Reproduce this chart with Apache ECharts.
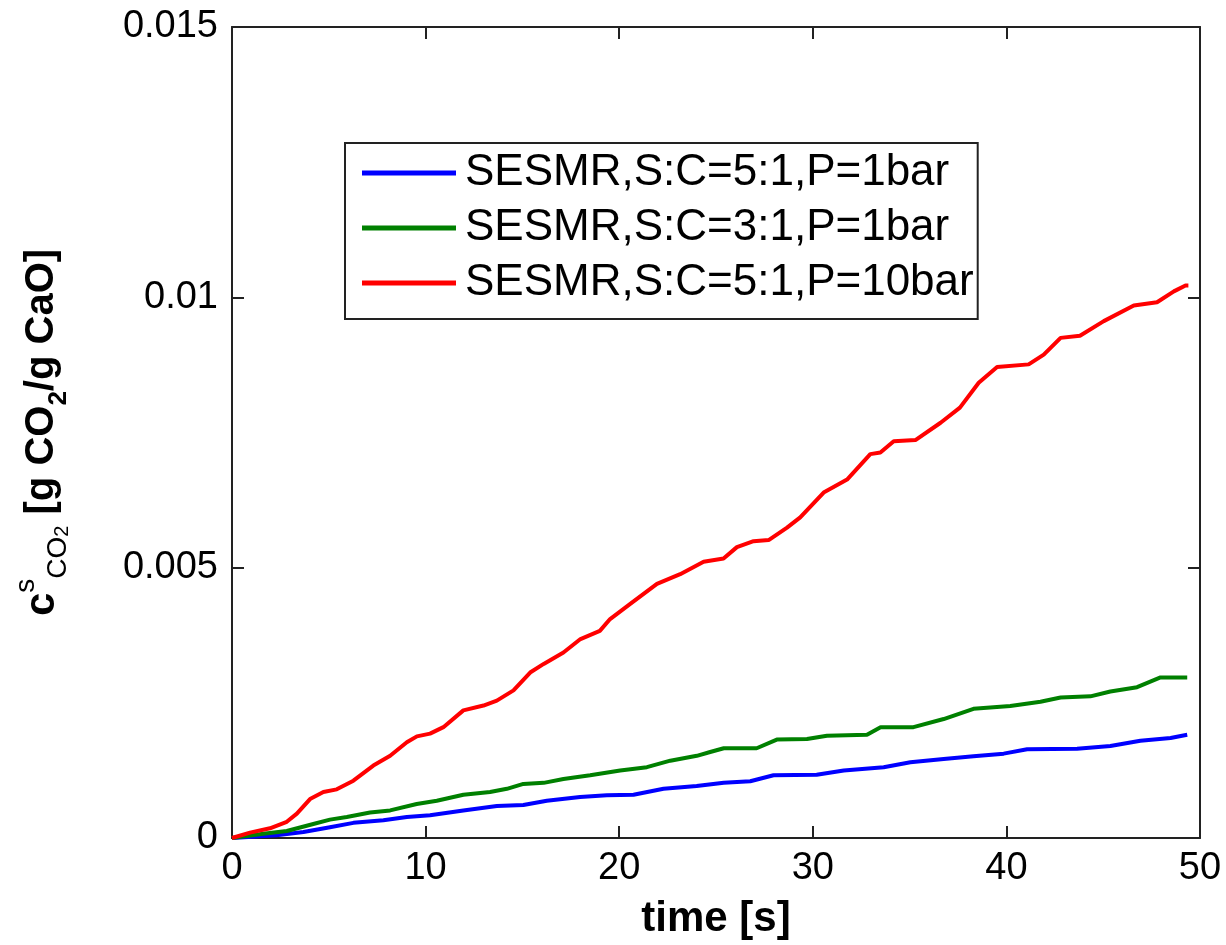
<!DOCTYPE html>
<html>
<head>
<meta charset="utf-8">
<script src="https://cdn.jsdelivr.net/npm/echarts@6/dist/echarts.min.js"></script>
<style>html,body{margin:0;padding:0;background:#fff;}#c{width:1226px;height:945px;}</style>
</head>
<body>
<div id="c"></div>
<script>
// ---- data ----
const seriesNames = ['SESMR,S:C=5:1,P=1bar', 'SESMR,S:C=3:1,P=1bar', 'SESMR,S:C=5:1,P=10bar'];
const blueT = [0,2.3,3.69,5.06,6.27,7.82,9.03,10.23,11.95,13.68,15.05,16.26,17.98,19.36,20.74,22.29,24.0,25.4,26.77,27.97,30.2,31.6,33.66,35.04,36.76,38.3,39.86,41.07,43.65,45.37,46.92,48.48,49.34];
const blueV = [0,0.00005,0.00011,0.0002,0.00028,0.00033,0.00039,0.00042,0.00051,0.00059,0.00061,0.00069,0.00076,0.00079,0.0008,0.00091,0.00096,0.00102,0.00105,0.00116,0.00117,0.00125,0.00131,0.0014,0.00146,0.00151,0.00156,0.00164,0.00165,0.0017,0.0018,0.00185,0.00191];
const greenT = [0,1.62,2.83,4.2,5.06,5.93,7.13,8.17,9.54,10.58,11.95,13.33,14.2,15.05,16.1,17.12,18.5,20.05,21.43,22.64,24.01,24.7,25.4,27.1,28.14,29.7,30.73,32.8,33.5,35.2,36.76,38.3,40.2,41.76,42.8,44.34,45.37,46.75,47.96,49.34];
const greenV = [0,0.00008,0.00013,0.00026,0.00034,0.00039,0.00047,0.00051,0.00063,0.00069,0.0008,0.00085,0.00091,0.001,0.00102,0.00109,0.00116,0.00125,0.00131,0.00143,0.00152,0.00159,0.00166,0.00166,0.00182,0.00183,0.00189,0.00191,0.00205,0.00205,0.0022,0.00239,0.00244,0.00252,0.0026,0.00262,0.00271,0.00279,0.00297,0.00297];
const redT = [0,0.93,1.96,2.83,3.35,4.03,4.72,5.41,6.27,7.3,8.17,9.03,9.55,10.23,10.92,11.95,12.99,13.68,14.54,15.4,16.1,17.12,18.0,19.0,19.53,20.57,21.95,23.15,24.36,25.39,26.08,26.94,27.72,28.67,29.35,30.56,31.77,32.97,33.49,34.18,35.3,36.6,37.6,38.57,39.52,41.15,41.93,42.8,43.8,45.03,46.58,47.78,48.65,49.25,49.4];
const redV = [0,0.0001,0.00018,0.0003,0.00045,0.00072,0.00085,0.0009,0.00106,0.00134,0.00152,0.00177,0.00188,0.00193,0.00205,0.00236,0.00245,0.00254,0.00273,0.00306,0.00322,0.00343,0.00368,0.00383,0.00405,0.00433,0.0047,0.00488,0.00511,0.00517,0.00538,0.00549,0.00551,0.00574,0.00593,0.00639,0.00663,0.0071,0.00713,0.00734,0.00736,0.00768,0.00796,0.00842,0.00871,0.00876,0.00894,0.00925,0.00929,0.00956,0.00985,0.00991,0.01011,0.01022,0.01022];
const xTicks = [0, 10, 20, 30, 40, 50];
const yTicks = [0, 0.005, 0.01, 0.015];
const yTickLabels = ['0', '0.005', '0.01', '0.015'];

const FONT = '"Liberation Sans", Arial, Helvetica, sans-serif';
const zip = (a, b) => a.map((t, i) => [t, b[i]]);
const colors = ['#0000ff', '#008000', '#ff0000'];
const dataSets = [zip(blueT, blueV), zip(greenT, greenV), zip(redT, redV)];

const axisLine = { show: true, onZero: false, lineStyle: { color: '#222', width: 2 } };
const tick = { show: true, inside: true, length: 12, lineStyle: { color: '#222', width: 2 } };

const chart = echarts.init(document.getElementById('c'), null, { renderer: 'canvas' });
chart.setOption({
  backgroundColor: '#fff',
  animation: false,
  grid: { left: 232, right: 26, top: 27, bottom: 105, containLabel: false },
  legend: {
    data: seriesNames,
    orient: 'vertical',
    left: 345, top: 143,
    icon: 'rect',
    itemWidth: 94, itemHeight: 5,
    itemGap: 11,
    padding: [8, 4, 14, 17],
    borderColor: '#222', borderWidth: 2,
    backgroundColor: '#fff',
    textStyle: { fontFamily: FONT, fontSize: 44, color: '#000', padding: [0, 0, 0, 4] }
  },
  xAxis: [{
    type: 'value', min: 0, max: 50, interval: 10, position: 'bottom',
    axisLine, axisTick: tick, splitLine: { show: false },
    axisLabel: { fontFamily: FONT, fontSize: 38, color: '#000', margin: 12 },
    name: 'time [s]', nameLocation: 'middle', nameGap: 60,
    nameTextStyle: { fontFamily: FONT, fontSize: 42, fontWeight: 'bold', color: '#000' }
  }, {
    type: 'value', min: 0, max: 50, interval: 10, position: 'top',
    axisLine, axisTick: tick, splitLine: { show: false }, axisLabel: { show: false }
  }],
  yAxis: [{
    type: 'value', min: 0, max: 0.015, interval: 0.005, position: 'left',
    axisLine, axisTick: tick, splitLine: { show: false },
    axisLabel: { fontFamily: FONT, fontSize: 38, color: '#000', margin: 14,
      formatter: v => yTickLabels[yTicks.findIndex(t => Math.abs(t - v) < 1e-9)] },
    name: '{c|c}{sup|s}{sub|CO}{sub2|2}{m| [g CO}{sub3|2}{m|/g CaO]}',
    nameLocation: 'middle', nameRotate: 90, nameGap: 160,
    nameTextStyle: {
      fontFamily: FONT, color: '#000',
      rich: {
        c: { fontFamily: FONT, fontSize: 42, fontWeight: 'bold', lineHeight: 60, verticalAlign: 'middle' },
        sup: { fontFamily: FONT, fontSize: 28, lineHeight: 60, verticalAlign: 'top' },
        sub: { fontFamily: FONT, fontSize: 28, lineHeight: 60, verticalAlign: 'bottom' },
        sub2: { fontFamily: FONT, fontSize: 20, lineHeight: 60, verticalAlign: 'bottom' },
        m: { fontFamily: FONT, fontSize: 40, fontWeight: 'bold', lineHeight: 60, verticalAlign: 'middle' },
        sub3: { fontFamily: FONT, fontSize: 26, fontWeight: 'bold', lineHeight: 48, verticalAlign: 'bottom' }
      }
    }
  }, {
    type: 'value', min: 0, max: 0.015, interval: 0.005, position: 'right',
    axisLine, axisTick: tick, splitLine: { show: false }, axisLabel: { show: false }
  }],
  series: dataSets.map((d, i) => ({
    name: seriesNames[i], type: 'line', data: d,
    xAxisIndex: 0, yAxisIndex: 0,
    showSymbol: false, symbol: 'none',
    lineStyle: { color: colors[i], width: 4 },
    itemStyle: { color: colors[i] },
    z: 2 + i
  }))
});
</script>
</body>
</html>
